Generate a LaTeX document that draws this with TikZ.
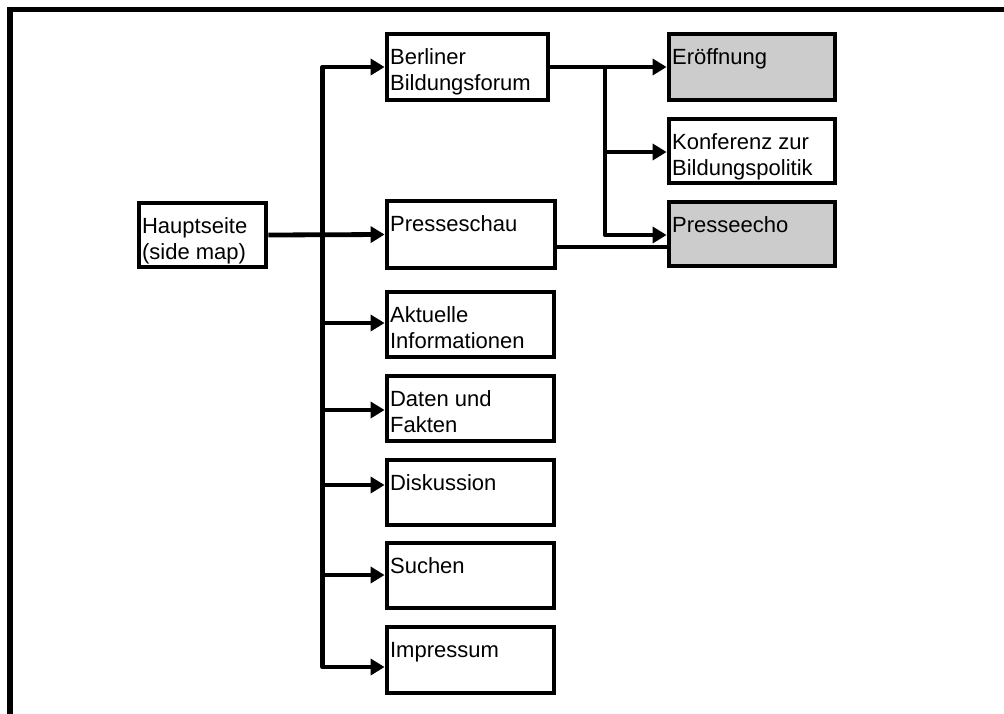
\documentclass[tikz,border=0pt]{standalone}
\usepackage{fontspec}
\setmainfont{Liberation Sans}
\usetikzlibrary{arrows.meta}
\definecolor{boxgray}{RGB}{204,204,204}
\tikzset{
  pagebox/.style={draw=black, line width=4.8pt, outer sep=2.4pt, inner sep=0pt, rectangle},
  lbl/.style={inner sep=0pt, outer sep=0pt, anchor=north west, align=left,
              font=\fontsize{22}{25.5}\selectfont},
  tip/.style={},
  conn/.style={line width=4.8pt, line join=round},
  arr/.style={conn, -{Triangle[length=14pt, width=16pt]}},
  frameline/.style={line width=5.5pt}
}
% name, x1, y1, x2, y2 (centre line of the border), fill, text
\newcommand\mkbox[7]{%
  \node[pagebox, fill=#6, minimum width={#4-#2}, minimum height={#5-#3}]
    (#1) at ({(#2+#4)/2},{(#3+#5)/2}) {};
  \node[lbl] (t-#1) at ([xshift=5.5pt, yshift=-15pt]#1.north west)
    {\rule{0pt}{18pt}#7};}
\begin{document}
\begin{tikzpicture}[x=1pt, y=-1pt]
  \useasboundingbox (0,0) rectangle (1004,713);
  % outer frame (only top and left edges visible)
  \coordinate (fr-tr) at (1010,9.5);
  \coordinate (fr-tl) at (10,9.5);
  \coordinate (fr-bl) at (10,720);
  \draw[frameline] (fr-tr) -- (fr-tl) -- (fr-bl);

  \mkbox{haupt}{139}{203}{266}{267}{white}{Hauptseite\\(side map)}
  \mkbox{berliner}{387}{34}{548}{100}{white}{Berliner\\Bildungsforum}
  \mkbox{presseschau}{387}{201}{555}{268}{white}{Presseschau}
  \mkbox{aktuelle}{387}{292}{554}{357}{white}{Aktuelle\\Informationen}
  \mkbox{daten}{387}{376}{554}{441}{white}{Daten und\\Fakten}
  \mkbox{diskussion}{387}{460}{554}{525}{white}{Diskussion}
  \mkbox{suchen}{387}{543}{554}{608}{white}{Suchen}
  \mkbox{impressum}{387}{627}{554}{693}{white}{Impressum}
  \mkbox{eroeffnung}{669}{34}{835}{100}{boxgray}{Eröffnung}
  \mkbox{konferenz}{669}{119}{835}{183}{white}{Konferenz zur\\Bildungspolitik}
  \mkbox{presseecho}{669}{202}{835}{266}{boxgray}{Presseecho}

  % left trunk
  \coordinate (ttop) at (322.5,67);
  \coordinate (tbot) at (322.5,667);
  \coordinate (b-akt) at (322.5,323);
  \coordinate (b-dat) at (322.5,410);
  \coordinate (b-dis) at (322.5,485);
  \coordinate (b-suc) at (322.5,575);
  \draw[conn, {Triangle[length=14pt, width=16pt]}-{Triangle[length=14pt, width=16pt]}]
    (ttop -| berliner.west) -- (ttop) -- (tbot) -- (tbot -| impressum.west);
  \draw[arr] (haupt.east) -- (presseschau.west);
  \draw[arr] (b-akt) -- (b-akt -| aktuelle.west);
  \draw[arr] (b-dat) -- (b-dat -| daten.west);
  \draw[arr] (b-dis) -- (b-dis -| diskussion.west);
  \draw[arr] (b-suc) -- (b-suc -| suchen.west);

  % right branch
  \coordinate (rtop) at (605,67);
  \coordinate (rbot) at (605,235);
  \coordinate (r-kon) at (605,152);
  \draw[arr] (rtop -| berliner.east) -- (rtop -| eroeffnung.west);
  \draw[arr] (rtop) -- (rbot) -- (rbot -| presseecho.west);
  \draw[arr] (r-kon) -- (r-kon -| konferenz.west);
  \coordinate (pp) at (600,247);
  \draw[conn] (pp -| presseschau.east) -- (pp -| presseecho.west);
\end{tikzpicture}
\end{document}
